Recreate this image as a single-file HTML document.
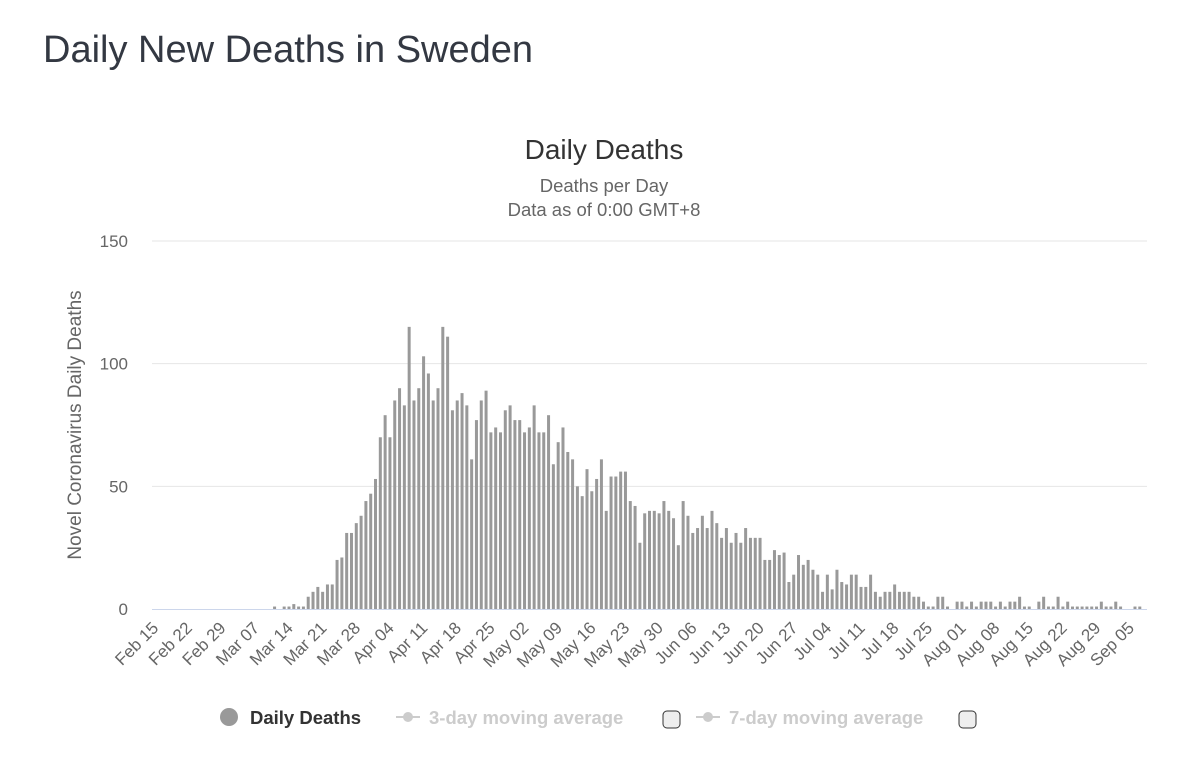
<!DOCTYPE html>
<html><head><meta charset="utf-8"><style>
body{margin:0;background:#fff;width:1200px;height:758px;overflow:hidden;font-family:"Liberation Sans",Arial,sans-serif}
h1{position:absolute;left:43px;top:29px;margin:0;font-weight:normal;font-size:38px;color:#333842}
svg{position:absolute;left:0;top:0}
</style></head><body>
<h1>Daily New Deaths in Sweden</h1>
<svg id="c" width="1200" height="758"></svg>
<script>
const startDate = [2020, 2, 15];
const yTicks = [0, 50, 100, 150];
const deaths = [0,0,0,0,0,0,0,0,0,0,0,0,0,0,0,0,0,0,0,0,0,0,0,0,0,
1,0,1,1,2,1,1,5,7,9,7,10,10,20,21,31,31,35,38,44,47,53,70,79,70,85,90,83,115,85,90,103,96,85,90,115,111,81,85,88,83,61,77,85,89,72,74,72,81,83,77,77,72,74,83,72,72,79,59,68,
74,64,61,50,46,57,48,53,61,40,54,54,56,56,44,42,27,39,40,40,39,44,40,37,26,44,38,31,33,38,33,40,35,29,33,27,31,27,33,29,29,29,20,20,24,22,23,11,14,22,18,20,16,14,7,14,
8,16,
11,10,14,14,9,9,14,7,5,7,7,10,7,7,7,5,5,3,1,1,5,5,1,0,3,3,1,3,1,3,3,3,1,3,1,3,3,5,1,1,0,3,5,1,1,5,1,3,1,1,1,1,1,1,3,1,1,3,1,0,0,1,1,0];
const months=["Jan","Feb","Mar","Apr","May","Jun","Jul","Aug","Sep","Oct","Nov","Dec"];
const NS="http://www.w3.org/2000/svg";
const svg=document.getElementById('c');
const L=152,R=1147,T=241,B=609,ymax=150;
const bw=(R-L)/deaths.length;
const x=i=>L+(i+0.5)*bw;
const y=v=>B-(v/ymax)*(B-T);
function mk(tag,attrs,txt){const e=document.createElementNS(NS,tag);for(const k in attrs)e.setAttribute(k,attrs[k]);if(txt!==undefined)e.textContent=txt;svg.appendChild(e);return e;}
let e;
e=mk('text',{x:604,y:159,'text-anchor':'middle','font-size':28,fill:'#333'},'Daily Deaths');


e=mk('text',{x:604,y:192,'text-anchor':'middle','font-size':18.5,fill:'#666'},'Deaths per Day');


e=mk('text',{x:604,y:216,'text-anchor':'middle','font-size':18.5,fill:'#666'},'Data as of 0:00 GMT+8');


yTicks.forEach(t=>{
 if(t>0){e=mk('line',{x1:L,x2:R,y1:y(t),y2:y(t),stroke:'#e6e6e6','stroke-width':1});
 
 }
 e=mk('text',{x:128,y:y(t)+6,'text-anchor':'end','font-size':17,fill:'#666'},String(t));
 
 
});
e=mk('text',{x:0,y:0,'text-anchor':'middle','font-size':19,fill:'#666',transform:'translate(81,425) rotate(-90)'},'Novel Coronavirus Daily Deaths');


deaths.forEach((v,i)=>{
 if(v<=0)return;
 e=mk('rect',{x:x(i)-1.5,y:y(v),width:3,height:B-y(v),fill:'#999'});
 
 
});
e=mk('line',{x1:L,x2:R,y1:B+0.5,y2:B+0.5,stroke:'#ccd6eb','stroke-width':1});


for(let i=0;i<deaths.length;i+=7){
 const d=new Date(startDate[0],startDate[1]-1,startDate[2]+i);
 const lab=months[d.getMonth()]+' '+String(d.getDate()).padStart(2,'0');
 e=mk('text',{x:0,y:0,'text-anchor':'end','font-size':17,fill:'#666',transform:`translate(${x(i)+5},${B+20}) rotate(-45)`},lab);
 
 
}
e=mk('circle',{cx:229,cy:717,r:9,fill:'#999'});


e=mk('text',{x:250,y:724,'font-size':18.5,'font-weight':'bold',fill:'#333'},'Daily Deaths');


[[396,'3-day moving average',671],[696,'7-day moving average',967]].forEach(([lx,t,cb])=>{
 e=mk('line',{x1:lx,x2:lx+24,y1:717,y2:717,stroke:'#ccc','stroke-width':2});
 
 
 e=mk('circle',{cx:lx+12,cy:717,r:5,fill:'#ccc'});
 
 
 e=mk('text',{x:lx+33,y:724,'font-size':18.5,'font-weight':'bold',fill:'#ccc'},t);
 
 
 e=mk('rect',{x:cb-8,y:711,width:17,height:17,rx:4,fill:'#eee',stroke:'#333','stroke-width':1});
 
 
});
</script>
</body></html>
